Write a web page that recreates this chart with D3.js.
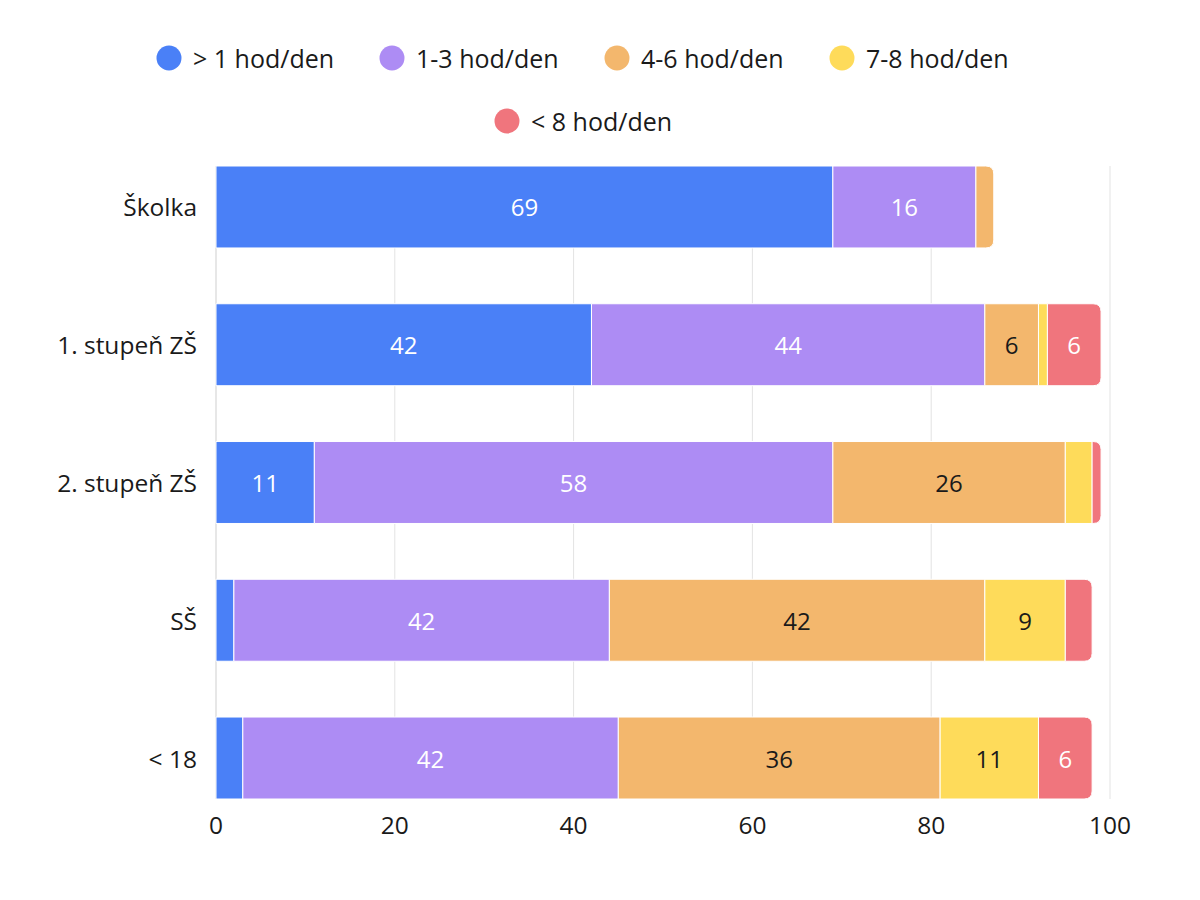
<!DOCTYPE html>
<html>
<head>
<meta charset="utf-8">
<script src="https://cdn.jsdelivr.net/npm/d3@7"></script>
<style>
  body { margin: 0; background: #fff; }
  text { font-family: "Open Sans", sans-serif; }
</style>
</head>
<body>
<div id="chart"></div>
<script>
// data
let categories = ["Školka", "1. stupeň ZŠ", "2. stupeň ZŠ", "SŠ", "< 18"];
let series = ["> 1 hod/den", "1-3 hod/den", "4-6 hod/den", "7-8 hod/den", "< 8 hod/den"];
let values = [
  [69, 42, 11, 2, 3],   // > 1 hod/den
  [16, 44, 58, 42, 42], // 1-3 hod/den
  [2, 6, 26, 42, 36],   // 4-6 hod/den
  [0, 1, 3, 9, 11],     // 7-8 hod/den
  [0, 6, 1, 3, 6]       // < 8 hod/den
];
let ticks = [0, 20, 40, 60, 80, 100];
let colors = ["#4a80f7", "#ad8cf4", "#f3b76d", "#fedb5a", "#f0757d"];
let labelColors = ["#fff", "#fff", "#1a1a1a", "#1a1a1a", "#fff"];

let width = 1200, height = 900;
let margin = {left: 216, right: 90, top: 166, bottom: 101};

let svg = d3.select("#chart")
  .append("svg")
  .attr("width", width)
  .attr("height", height);

let x = d3.scaleLinear()
  .domain([0, 100])
  .range([margin.left, width - margin.right]);

let y = d3.scaleBand()
  .domain(categories)
  .range([margin.top, height - margin.bottom])
  .paddingInner(0.405)
  .paddingOuter(0);

//build stacked rows
let rows = categories.map(function(c, i) {
  let row = {cat: c};
  series.forEach(function(s, j) { row[s] = values[j][i]; });
  return row;
});
let stacked = d3.stack().keys(series)(rows);

//grid
svg.append("g")
  .selectAll("line")
  .data(ticks)
  .enter()
  .append("line")
  .attr("x1", function(d) { return x(d); })
  .attr("x2", function(d) { return x(d); })
  .attr("y1", margin.top)
  .attr("y2", height - margin.bottom)
  .attr("stroke", function(d) { return d === 0 ? "#cfcfcf" : "#e3e3e3"; })
  .attr("stroke-width", 1);

//last non-zero segment in each row gets rounded right corners
let lastIdx = categories.map(function(c, i) {
  let k = 0;
  for (let j = 0; j < series.length; j++) if (values[j][i] > 0) k = j;
  return k;
});

function segPath(x0, x1, y0, h, r) {
  r = Math.min(r, (x1 - x0));
  return "M" + x0 + "," + y0 +
    "H" + (x1 - r) +
    "Q" + x1 + "," + y0 + " " + x1 + "," + (y0 + r) +
    "V" + (y0 + h - r) +
    "Q" + x1 + "," + (y0 + h) + " " + (x1 - r) + "," + (y0 + h) +
    "H" + x0 + "Z";
}

let layers = svg.append("g")
  .selectAll("g")
  .data(stacked)
  .enter()
  .append("g")
  .attr("fill", function(d, i) { return colors[i]; });

layers.selectAll("path")
  .data(function(d, j) { return d.map(function(p, i) { return {p: p, j: j, i: i}; }); })
  .enter()
  .append("path")
  .filter(function(d) { return d.p[1] - d.p[0] > 0; })
  .attr("d", function(d) {
    let x0 = x(d.p[0]), x1 = x(d.p[1]), y0 = y(categories[d.i]), h = y.bandwidth();
    if (d.j === lastIdx[d.i]) return segPath(x0, x1, y0, h, 8);
    return "M" + x0 + "," + y0 + "H" + x1 + "V" + (y0 + h) + "H" + x0 + "Z";
  })
  .attr("stroke", "#fff")
  .attr("stroke-width", 1);

//value labels
layers.selectAll("text")
  .data(function(d, j) { return d.map(function(p, i) { return {p: p, j: j, i: i}; }); })
  .enter()
  .filter(function(d) { return d.p[1] - d.p[0] >= 5; })
  .append("text")
  .attr("x", function(d) { return (x(d.p[0]) + x(d.p[1])) / 2; })
  .attr("y", function(d) { return y(categories[d.i]) + y.bandwidth() / 2; })
  .attr("text-anchor", "middle")
  .attr("dominant-baseline", "central")
  .attr("font-size", "24px")
  .attr("fill", function(d) { return labelColors[d.j]; })
  .text(function(d) { return d.p[1] - d.p[0]; });

//category labels
svg.append("g")
  .selectAll("text")
  .data(categories)
  .enter()
  .append("text")
  .attr("x", margin.left - 19)
  .attr("y", function(d) { return y(d) + y.bandwidth() / 2; })
  .attr("text-anchor", "end")
  .attr("dominant-baseline", "central")
  .attr("font-size", "24.5px")
  .attr("fill", "#1a1a1a")
  .text(function(d) { return d; });

//x axis tick labels
svg.append("g")
  .selectAll("text")
  .data(ticks)
  .enter()
  .append("text")
  .attr("x", function(d) { return x(d); })
  .attr("y", height - margin.bottom + 25)
  .attr("text-anchor", "middle")
  .attr("dominant-baseline", "central")
  .attr("font-size", "24.5px")
  .attr("fill", "#1a1a1a")
  .text(function(d) { return d; });

//legend
let legendPos = [[169, 58], [392, 58], [617, 58], [842, 58], [507, 121]];
let legend = svg.append("g")
  .selectAll("g")
  .data(series)
  .enter()
  .append("g")
  .attr("transform", function(d, i) { return "translate(" + legendPos[i][0] + "," + legendPos[i][1] + ")"; });

legend.append("circle")
  .attr("r", 12.5)
  .attr("fill", function(d, i) { return colors[i]; });

legend.append("text")
  .attr("x", 24)
  .attr("dominant-baseline", "central")
  .attr("font-size", "25px")
  .attr("fill", "#1a1a1a")
  .text(function(d) { return d; });
</script>
</body>
</html>
